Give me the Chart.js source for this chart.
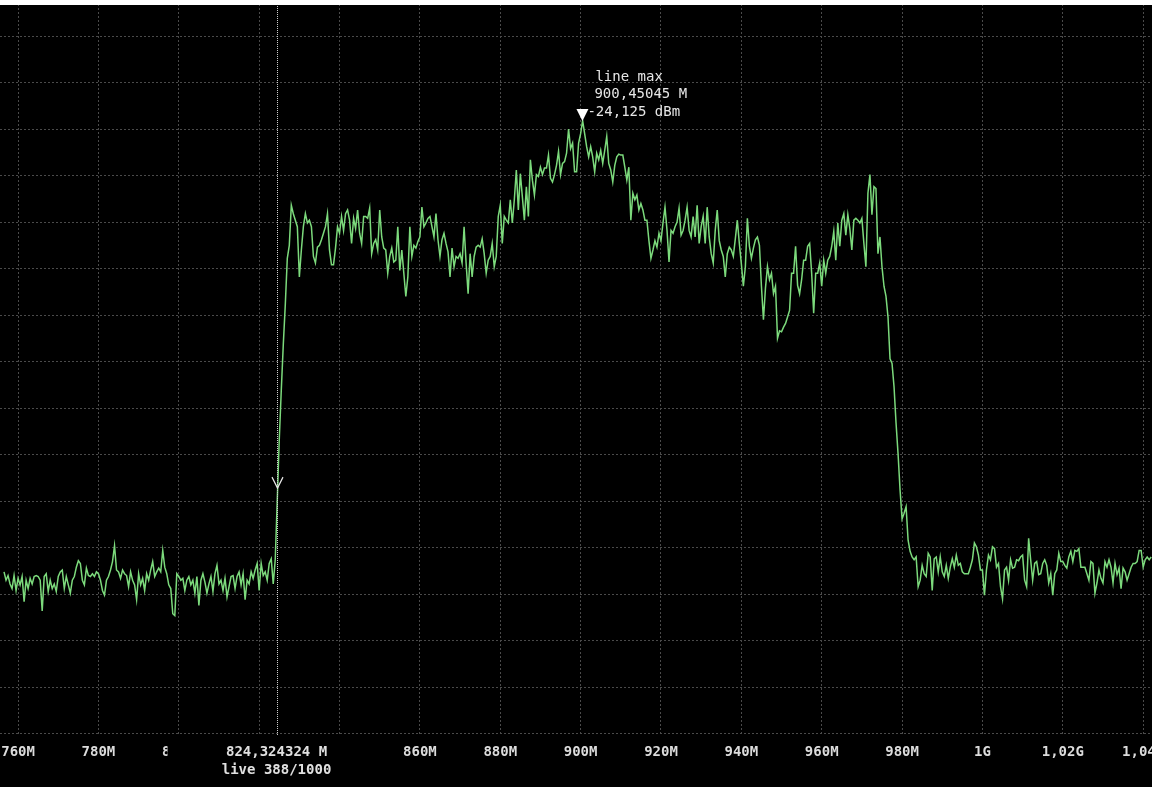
<!DOCTYPE html>
<html>
<head>
<meta charset="utf-8">
<script src="https://cdn.jsdelivr.net/npm/chart.js@4.4.1/dist/chart.umd.min.js"></script>
<style>
  html, body { margin: 0; padding: 0; background: #fff; }
  #wrap { position: absolute; left: 0; top: 0; width: 1152px; height: 787px; }
</style>
</head>
<body>
<div id="wrap"><canvas id="spectrum"></canvas></div>
<script>
/* ================== SWEEP ================== */
const sweepStartMHz = 756.5;
const sweepStepMHz = 0.5;

/* ================== TRACE (dBm) ================== */
const floorLeft = [
  -72.6, -73.5, -73.0, -73.9, -74.4, -73.0, -74.6, -73.3, -74.0, -73.1,
  -75.8, -73.5, -74.4, -73.3, -73.9, -73.1, -73.0, -73.1, -73.5, -76.8,
  -73.1, -72.8, -74.7, -73.5, -74.4, -73.9, -74.7, -73.1, -72.6, -72.4,
  -74.4, -73.1, -74.0, -74.9, -73.5, -73.1, -72.1, -71.4, -71.7, -73.5,
  -74.0, -72.2, -73.0, -73.1, -72.8, -73.1, -72.6, -72.8, -73.5, -74.6,
  -75.1, -73.5, -73.1, -72.4, -71.5, -69.8, -72.4, -72.6, -73.3, -72.4,
  -72.8, -73.0, -74.2, -72.6, -73.5, -74.0, -75.6, -72.8, -74.0, -73.3,
  -74.6, -72.8, -73.5, -72.4, -71.5, -73.1, -72.6, -72.2, -72.6, -70.3,
  -72.1, -72.8, -74.0, -74.4, -77.1, -77.3, -72.8, -73.1, -73.5, -73.3,
  -74.6, -73.5, -73.1, -74.0, -73.5, -74.9, -73.1, -76.2, -73.5, -72.8,
  -73.7, -74.9, -73.9, -73.1, -74.7, -72.8, -71.9, -73.9, -73.5, -74.6,
  -73.3, -75.3, -74.2, -73.1, -73.0, -74.4, -73.1, -72.6, -74.0, -72.8,
  -75.6, -73.5, -73.9, -72.6, -73.3, -72.4, -71.7, -74.6, -71.7, -73.0,
  -72.6, -73.5, -71.7, -71.2, -73.9, -71.3
];

const riseEdge = [-64.9, -58.4, -53.1, -48.2, -43.9, -38.9, -37.5];

const bandLow = [
  -33.2, -34.1, -34.8, -35.5, -40.9, -38.0, -35.5, -34.1, -35.1, -34.8,
  -35.5, -38.7, -39.4, -37.7, -37.5, -36.9, -36.2, -35.5, -34.1, -38.0,
  -39.6, -39.6, -37.8, -35.5, -36.2, -34.4, -35.9, -34.1, -33.7, -34.8,
  -37.3, -34.6, -35.7, -33.7, -36.2, -37.3, -34.4, -34.4, -34.6, -33.5,
  -38.4, -37.3, -36.9, -38.0, -33.7, -36.6, -37.8, -38.0, -40.5, -38.7,
  -37.8, -39.3, -39.1, -35.5, -40.2, -38.0, -40.5, -43.0, -40.9, -35.5,
  -38.7, -37.5, -37.8, -37.1, -36.6, -33.4, -35.5, -35.1, -34.6, -34.4,
  -35.5, -36.6, -34.1, -36.9, -38.7, -36.9, -36.2, -37.3, -38.2, -40.9,
  -37.8, -39.8, -38.7, -38.9, -38.4, -39.4, -35.5, -39.4, -42.7, -38.4,
  -40.9, -38.7, -37.7, -37.5, -37.7, -36.8, -38.4, -40.5, -39.1, -38.7,
  -37.3, -39.8, -38.7, -34.4, -33.2, -37.3, -34.4
];

const bandPeak = [
  -34.8, -35.1, -32.6, -35.1, -32.6, -29.4, -33.7, -29.8, -32.3, -34.8,
  -31.2, -34.4, -28.3, -30.5, -32.1, -29.9, -30.1, -29.1, -29.9, -29.2,
  -29.2, -27.8, -30.3, -30.7, -29.9, -28.9, -27.4, -29.9, -28.7, -28.5,
  -27.6, -25.0, -27.1, -26.5, -29.6, -29.6, -26.5, -25.5, -24.1, -25.5,
  -26.9, -28.0, -26.9, -28.0, -29.6, -27.6, -28.3, -27.3, -28.7, -27.3,
  -25.8, -28.7, -29.4, -30.7, -28.9, -28.0, -27.7, -27.8, -27.8, -29.1,
  -30.5, -29.1, -34.8, -31.9, -32.6, -32.1, -33.7, -33.0, -33.7, -34.8,
  -34.8, -37.0, -38.9, -38.0, -37.0, -37.7, -36.2, -37.0, -35.1, -33.4,
  -35.9, -39.3, -35.9, -36.2, -35.5, -35.0, -33.5, -36.4, -35.9, -34.8,
  -33.4, -35.9, -36.6, -34.4, -36.6, -33.2, -37.3, -35.5, -34.4, -37.3,
  -33.4, -36.6, -38.4, -39.4, -35.9, -33.7, -37.0, -38.0, -38.7, -40.9,
  -38.4, -37.7, -38.0, -38.7, -36.8, -34.8, -37.3
];

const bandHigh = [
  -39.5, -41.9, -39.8, -34.6, -37.6, -38.9, -37.8, -36.9, -36.6, -37.5,
  -41.9, -45.5, -42.1, -39.8, -41.2, -40.5, -42.7, -41.9, -47.5, -46.7,
  -46.8, -46.3, -45.9, -45.2, -44.5, -40.5, -40.5, -37.6, -41.8, -42.7,
  -41.2, -39.1, -39.1, -37.6, -37.3, -40.5, -44.8, -40.5, -40.5, -39.4,
  -41.9, -39.1, -40.5, -39.1, -38.7, -37.6, -36.0, -39.1, -35.1, -37.6,
  -34.8, -34.1, -36.4, -34.2, -35.7, -38.0, -34.8, -34.6, -34.8, -35.1,
  -34.6, -37.3, -39.8, -31.9, -29.9, -34.2, -31.2, -31.4, -38.4, -36.6,
  -39.8, -41.9, -43.0, -45.2, -49.7, -50.2, -52.7, -56.6, -59.9, -63.8,
  -66.9, -66.3, -65.6, -69.2
];

const floorRight = [
  -70.4, -71.0, -71.3, -71.0, -74.2, -73.5, -71.9, -72.8, -73.1, -70.6,
  -71.0, -74.6, -71.2, -71.0, -72.6, -71.0, -72.6, -73.1, -71.9, -73.3,
  -72.1, -71.2, -72.1, -70.8, -71.9, -71.7, -72.6, -72.8, -72.8, -72.8,
  -72.1, -71.3, -69.5, -69.9, -70.8, -72.4, -72.4, -75.1, -72.4, -70.8,
  -71.3, -69.9, -70.1, -72.1, -71.7, -74.2, -75.5, -72.4, -72.1, -73.5,
  -71.3, -72.2, -72.1, -71.3, -71.4, -71.0, -70.8, -73.5, -74.2, -69.0,
  -71.3, -73.5, -71.7, -71.5, -72.9, -72.8, -71.7, -71.3, -71.9, -73.8,
  -72.8, -75.1, -72.8, -72.4, -70.6, -71.5, -71.5, -71.9, -72.2, -71.0,
  -70.4, -71.5, -70.3, -70.4, -70.1, -72.1, -72.1, -72.1, -72.8, -73.5,
  -71.5, -71.7, -74.9, -73.8, -72.4, -73.3, -73.8, -71.5, -72.1, -71.3,
  -72.1, -73.8, -71.7, -72.9, -72.2, -74.4, -72.2, -72.6, -73.5, -72.8,
  -72.1, -71.7, -71.7, -71.5, -70.3, -70.3, -72.1, -71.3, -71.0, -71.3,
  -71.0
];

/* ================== AXES ================== */
const xTickMHz = [760, 780, 800, 820, 840, 860, 880, 900, 920, 940, 960, 980, 1000, 1020, 1040];
const yGridDbm = [-90, -85, -80, -75, -70, -65, -60, -55, -50, -45, -40, -35, -30, -25, -20, -15];

/* ================== MARKERS ================== */
const peakMarker = { title: "line max", freq: 900.45045, level: -24.125 };
const cursorMarker = { freq: 824.324324, level: -63.6, point: 388, total: 1000 };

const levels = [...floorLeft, ...riseEdge, ...bandLow, ...bandPeak, ...bandHigh, ...floorRight];
const tracePoints = levels.map((v, i) => ({ x: sweepStartMHz + i * sweepStepMHz, y: v }));

const comma = v => String(v).replace(".", ",");

function freqLabel(v) {
  if (v < 1000) return v + "M";
  return comma(v / 1000) + "G";
}

/* ================== OVERLAYS ================== */
const overlays = {
  id: "overlays",
  beforeDraw(chart) {
    const { ctx, width, height } = chart;
    ctx.save();
    ctx.fillStyle = "#000";
    ctx.fillRect(0, 0, width, height);
    ctx.restore();
  },
  afterDatasetsDraw(chart) {
    const { ctx, chartArea, scales } = chart;
    const xs = scales.x, ys = scales.y;
    ctx.save();

    // cursor line
    const cx = Math.round(xs.getPixelForValue(cursorMarker.freq)) + 0.5;
    ctx.strokeStyle = "#d0d0d0";
    ctx.lineWidth = 1;
    ctx.setLineDash([1, 1]);
    ctx.beginPath();
    ctx.moveTo(cx, chartArea.top);
    ctx.lineTo(cx, chartArea.bottom + 2);
    ctx.stroke();
    ctx.setLineDash([]);

    // cursor chevron
    const cy = ys.getPixelForValue(cursorMarker.level);
    ctx.strokeStyle = "#e8e8e8";
    ctx.lineWidth = 1.2;
    ctx.beginPath();
    ctx.moveTo(cx - 5.5, cy - 11);
    ctx.lineTo(cx, cy);
    ctx.lineTo(cx + 5.5, cy - 11);
    ctx.stroke();

    // peak marker
    const px = xs.getPixelForValue(peakMarker.freq);
    const py = ys.getPixelForValue(peakMarker.level);
    ctx.fillStyle = "#ffffff";
    ctx.beginPath();
    ctx.moveTo(px - 6, py - 12);
    ctx.lineTo(px + 6, py - 12);
    ctx.lineTo(px, py);
    ctx.closePath();
    ctx.fill();

    ctx.fillStyle = "#e6e6e6";
    ctx.font = "14px 'DejaVu Sans Mono'";
    ctx.textAlign = "left";
    ctx.textBaseline = "middle";
    ctx.fillText(peakMarker.title, px + 13, py - 44);
    ctx.fillText(comma(peakMarker.freq) + " M", px + 12, py - 27);
    ctx.fillText(comma(peakMarker.level) + " dBm", px + 5, py - 9);
    ctx.restore();
  },
  afterDraw(chart) {
    const { ctx, chartArea, scales, width } = chart;
    const cx = scales.x.getPixelForValue(cursorMarker.freq);
    ctx.save();

    // cursor readout covers the nearby tick labels
    ctx.fillStyle = "#000";
    ctx.fillRect(cx - 109, chartArea.bottom + 4, 218, 60);
    ctx.fillStyle = "#e0e0e0";
    ctx.font = "bold 14px 'DejaVu Sans Mono'";
    ctx.textAlign = "center";
    ctx.textBaseline = "middle";
    ctx.fillText(comma(cursorMarker.freq) + " M", cx, chartArea.bottom + 18.5);
    ctx.fillText("live " + cursorMarker.point + "/" + cursorMarker.total, cx, chartArea.bottom + 36.5);

    // white frame at the top of the screenshot
    ctx.fillStyle = "#fff";
    ctx.fillRect(0, 0, width, 5);
    ctx.restore();
  }
};

/* ================== CHART ================== */
const chart = new Chart(document.getElementById("spectrum"), {
  type: "line",
  data: {
    datasets: [{
      label: "live",
      data: tracePoints,
      borderColor: "#7cda7c",
      borderWidth: 1.5,
      pointRadius: 0,
      tension: 0
    }]
  },
  options: {
    responsive: true,
    maintainAspectRatio: false,
    animation: false,
    events: [],
    layout: { padding: { left: 0, right: 0, top: 0, bottom: 16.5 } },
    plugins: {
      legend: { display: false },
      tooltip: { enabled: false }
    },
    scales: {
      x: {
        type: "linear",
        min: 755.5,
        max: 1042.2,
        afterBuildTicks: s => { s.ticks = xTickMHz.map(v => ({ value: v })); },
        afterFit: s => { s.paddingLeft = 0; s.paddingRight = 0; },
        grid: { color: "#4a4a4a", drawTicks: false },
        border: { display: false, dash: [2, 2] },
        ticks: {
          padding: 10,
          maxRotation: 0,
          autoSkip: false,
          color: "#dcdcdc",
          font: { family: "'DejaVu Sans Mono'", size: 14, weight: "bold" },
          callback: v => freqLabel(v)
        }
      },
      y: {
        type: "linear",
        min: -90,
        max: -11.13,
        afterBuildTicks: s => { s.ticks = yGridDbm.map(v => ({ value: v })); },
        grid: { color: "#4a4a4a", drawTicks: false },
        border: { display: false, dash: [2, 2] },
        ticks: { display: false }
      }
    }
  },
  plugins: [overlays]
});
</script>
</body>
</html>
